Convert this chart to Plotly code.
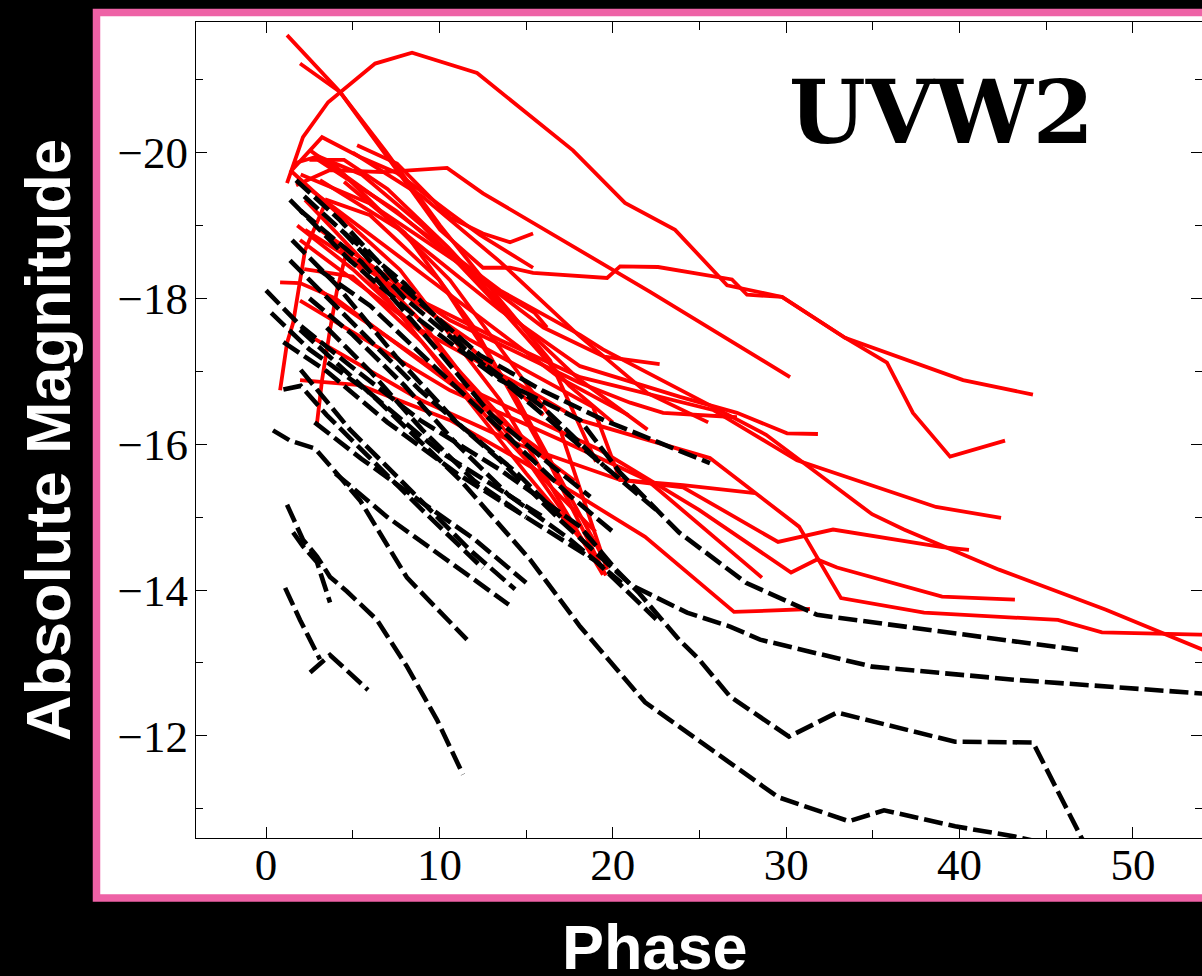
import plotly.graph_objects as go

# ---- light-curve samples: phase (days) and absolute magnitude in UVW2 ----
# red solid curves
red_phase = [
    [1.21, 2.13, 3.58, 6.29, 8.42, 12.17, 17.70, 20.70, 23.59, 26.59, 29.76, 33.39, 40.20, 44.23],
    [1.21, 4.27, 7.15, 10.03, 12.51, 14.07, 15.40, 19.67, 20.42, 22.61, 26.87, 27.74, 29.76, 33.39, 35.81, 37.31, 39.45, 42.62],
    [1.96, 4.27, 6.86, 10.03, 13.49, 16.38, 19.03],
    [5.25, 7.55, 10.61, 12.51, 14.07, 15.40],
    [1.50, 3.23, 5.42, 7.55, 10.61, 12.34, 15.40],
    [1.73, 3.69, 6.75, 10.44, 12.51, 18.11, 22.15, 30.22],
    [3.11, 7.73, 13.49, 18.11, 23.88, 27.16, 30.05, 31.83],
    [2.54, 7.73, 13.49, 18.11, 19.43, 28.84, 34.95, 36.79, 42.27, 48.44, 54.04],
    [2.25, 7.73, 13.49, 18.11, 25.78, 30.62, 38.64, 42.39],
    [1.96, 8.88, 14.65, 18.11, 25.60, 28.14, 30.74, 33.16, 37.95, 45.67, 48.21, 53.86, 54.04],
    [1.96, 5.42, 10.61, 14.65, 18.11, 21.86, 26.99, 31.37],
    [1.96, 8.88, 14.65, 20.42, 24.05, 27.34, 29.53, 32.70, 38.99, 40.54],
    [3.11, 10.61, 19.26, 24.97, 30.28, 31.78, 32.93, 38.99, 43.19],
    [1.96, 10.61, 16.96, 21.97, 28.60],
    [3.11, 10.61, 18.11, 21.00, 22.90, 27.16],
    [4.27, 11.76, 18.86, 20.42, 24.05, 28.20],
    [1.38, 7.73, 13.49, 19.43],
    [2.25, 8.88, 14.65, 19.03],
    [3.69, 10.61, 16.96, 19.67],
    [0.81, 1.21, 1.56, 2.25, 3.50, 6.00, 10.00, 14.50, 19.50],
    [2.94, 3.23, 3.69, 4.09, 4.60, 7.00, 11.00, 16.00],
    [0.81, 1.96, 4.00, 8.00, 12.00, 16.50],
    [1.60, 3.00, 5.50, 9.00, 13.00, 17.50, 20.00],
    [2.50, 4.50, 7.00, 10.50, 14.00, 18.00, 22.00],
    [2.00, 6.00, 11.00, 16.00, 19.50, 22.70],
    [2.50, 7.00, 12.00, 17.00, 20.90],
    [1.80, 5.00, 10.00, 15.00, 17.80],
    [3.00, 7.50, 12.00, 15.50, 16.20],
    [4.50, 8.00, 12.00, 16.00, 19.60],
    [3.50, 7.00, 11.00, 15.00, 18.50],
    [2.20, 5.00, 9.00, 13.00, 16.50, 19.00],
    [5.00, 9.00, 13.50, 18.00, 22.00, 25.50],
]
red_mag = [
    [-19.58, -20.21, -20.69, -21.22, -21.37, -21.09, -20.03, -19.31, -18.94, -18.18, -18.02, -17.46, -16.88, -16.68],
    [-21.61, -20.83, -19.89, -18.94, -18.42, -18.42, -18.35, -18.28, -18.44, -18.43, -18.26, -18.05, -18.02, -17.46, -17.12, -16.43, -15.83, -16.05],
    [-21.22, -20.83, -20.03, -19.00, -17.98, -17.15, -15.76],
    [-20.10, -19.85, -19.11, -18.89, -18.77, -18.89],
    [-19.76, -20.21, -19.94, -19.72, -19.17, -18.87, -18.42],
    [-19.55, -19.76, -19.73, -19.79, -19.44, -18.66, -18.09, -16.92],
    [-19.62, -18.94, -17.84, -17.07, -16.65, -16.43, -16.15, -16.14],
    [-20.03, -19.14, -18.11, -17.50, -17.30, -16.13, -15.04, -14.83, -14.28, -13.73, -13.18],
    [-18.94, -18.11, -17.43, -16.92, -16.47, -15.78, -15.14, -14.99],
    [-18.80, -17.57, -16.81, -16.33, -15.81, -15.35, -14.87, -13.89, -13.69, -13.59, -13.42, -13.39, -13.39],
    [-16.88, -16.81, -16.33, -15.78, -15.28, -14.73, -13.70, -13.74],
    [-17.56, -16.61, -15.99, -15.51, -15.41, -14.96, -14.66, -14.83, -14.59, -14.55],
    [-18.11, -16.88, -15.92, -15.10, -14.24, -14.42, -14.31, -13.91, -13.87],
    [-17.97, -16.74, -16.06, -15.51, -14.17],
    [-18.94, -17.70, -16.84, -16.57, -16.43, -16.37],
    [-18.66, -17.43, -16.51, -15.51, -15.44, -15.33],
    [-19.76, -18.39, -16.61, -14.21],
    [-19.35, -17.70, -15.92, -14.42],
    [-19.89, -18.25, -16.20, -14.28],
    [-16.74, -17.39, -17.66, -18.66, -19.35, -19.14, -18.25, -16.61, -14.42],
    [-16.29, -16.88, -17.57, -18.11, -18.60, -18.30, -17.50, -16.40],
    [-18.22, -18.21, -18.00, -17.30, -16.60, -15.80],
    [-19.85, -19.95, -19.70, -19.00, -18.00, -16.80, -16.30],
    [-19.90, -19.90, -19.50, -18.70, -17.80, -16.90, -16.20],
    [-19.70, -19.30, -18.50, -17.60, -17.20, -17.10],
    [-19.50, -18.70, -17.80, -16.90, -16.40],
    [-19.00, -18.40, -17.30, -16.00, -15.50],
    [-19.90, -19.20, -18.30, -17.80, -17.60],
    [-19.60, -18.90, -17.60, -15.90, -14.20],
    [-18.90, -18.00, -16.80, -15.60, -14.60],
    [-18.40, -18.30, -17.40, -16.30, -15.40, -14.80],
    [-20.00, -19.40, -18.50, -17.50, -16.70, -16.30],
]

# black dashed curves
black_phase = [
    [1.38, 4.84, 8.88, 13.49, 16.96, 21.05, 24.28, 26.76, 28.49, 34.95, 43.19, 53.46, 54.04],
    [0.00, 1.96, 4.84, 8.88, 13.49, 18.11, 20.18, 21.51, 23.82, 24.97, 26.76, 30.16, 32.93, 39.74, 44.23, 47.06, 48.00],
    [1.96, 6.40, 11.19, 15.22, 18.11, 21.86, 29.53, 33.62, 35.64, 39.74, 43.19, 44.50],
    [1.73, 4.27, 7.73, 12.34, 15.91, 19.49, 25.60],
    [1.38, 4.84, 8.88, 13.49, 18.11, 20.42, 23.82, 27.68, 31.78, 46.83],
    [2.00, 5.50, 9.50, 13.00, 16.50, 18.70],
    [2.00, 4.84, 8.88, 11.76, 14.36],
    [0.40, 1.38, 2.83, 5.42, 8.13, 11.59],
    [1.21, 2.13, 2.94, 3.69, 4.67, 6.40, 8.13, 9.86, 11.36],
    [1.10, 1.96, 3.11],
    [2.54, 3.69, 5.88],
    [1.56, 2.13, 2.94, 3.69],
    [1.00, 2.00, 3.50, 6.00, 9.00, 12.50],
    [0.30, 2.50, 6.00, 10.00, 14.00, 17.50, 20.50],
    [1.00, 3.50, 7.00, 11.00, 15.00, 19.00, 22.50],
    [2.20, 4.50, 8.00, 12.00, 16.00, 19.50],
    [1.50, 4.00, 7.50, 11.00, 14.50, 17.00],
    [3.00, 6.00, 10.00, 14.00, 17.50, 20.00],
    [2.80, 5.50, 9.00, 12.00, 15.00],
    [4.00, 7.00, 10.50, 14.00],
    [3.50, 6.00, 9.00, 12.00, 15.00],
    [2.50, 5.00, 8.00, 11.00, 14.00, 16.00],
    [4.50, 8.00, 11.50, 15.50, 19.00, 22.50],
]
black_mag = [
    [-18.52, -17.70, -16.74, -15.78, -14.96, -14.07, -13.69, -13.50, -13.32, -12.95, -12.77, -12.59, -12.58],
    [-18.11, -17.63, -17.08, -16.33, -15.65, -14.87, -14.28, -13.96, -13.32, -13.05, -12.54, -11.99, -12.32, -11.92, -11.91, -10.59, -10.35],
    [-17.57, -16.61, -15.51, -14.42, -13.50, -12.46, -11.16, -10.83, -10.98, -10.76, -10.62, -10.55],
    [-19.62, -19.07, -18.18, -17.22, -16.74, -16.33, -15.74],
    [-19.35, -18.52, -17.70, -16.88, -16.33, -15.61, -14.79, -14.10, -13.66, -13.18],
    [-19.20, -18.50, -17.40, -16.40, -15.70, -15.28],
    [-17.02, -16.20, -15.24, -14.55, -14.01],
    [-16.19, -16.05, -15.94, -15.23, -14.17, -13.32],
    [-15.17, -14.69, -14.46, -14.18, -13.98, -13.59, -12.95, -12.22, -11.47],
    [-14.03, -13.59, -13.05],
    [-12.87, -13.11, -12.63],
    [-14.79, -14.60, -14.38, -13.83],
    [-16.75, -16.80, -16.40, -15.80, -15.10, -14.30],
    [-17.80, -17.30, -16.70, -15.90, -15.30, -14.70, -14.10],
    [-17.40, -17.00, -16.30, -15.60, -15.00, -14.40, -13.60],
    [-19.40, -18.90, -18.00, -17.20, -16.50, -15.70],
    [-18.80, -18.20, -17.20, -16.30, -15.60, -15.00],
    [-18.40, -17.90, -17.00, -16.10, -15.30, -14.80],
    [-16.30, -15.80, -15.20, -14.70, -14.10],
    [-15.60, -15.00, -14.40, -13.80],
    [-17.60, -17.00, -16.20, -15.50, -15.00],
    [-18.00, -17.50, -16.80, -16.00, -15.30, -15.00],
    [-18.90, -18.20, -17.30, -16.50, -15.80, -15.10],
]

band_label = "UVW2"
x_title = "Phase"
y_title = "Absolute Magnitude"

fig = go.Figure()
for ph, mg in zip(red_phase, red_mag):
    fig.add_trace(go.Scatter(x=ph, y=mg, mode="lines",
                             line=dict(color="#ff0000", width=3.8),
                             showlegend=False, hoverinfo="skip"))
for ph, mg in zip(black_phase, black_mag):
    fig.add_trace(go.Scatter(x=ph, y=mg, mode="lines",
                             line=dict(color="#000000", width=4.6, dash="19px,6px"),
                             showlegend=False, hoverinfo="skip"))

tick_font = dict(family="Liberation Serif, Times New Roman, serif", size=45, color="black")
axis_common = dict(
    showline=True, linecolor="black", linewidth=1.2, mirror="ticks",
    ticks="inside", ticklen=11, tickwidth=1.2, tickcolor="black",
    showgrid=False, zeroline=False, tickfont=tick_font,
)

fig.update_xaxes(range=[-4.04, 53.98], tick0=0, dtick=10, ticklabelstandoff=-13,
                 minor=dict(ticks="inside", ticklen=8, tickwidth=1.2, tickcolor="black", dtick=5, tick0=0),
                 **axis_common)
fig.update_yaxes(range=[-10.6, -21.79], tick0=-20, dtick=2, ticklabelstandoff=-2,
                 minor=dict(ticks="inside", ticklen=7, tickwidth=1.2, tickcolor="black", dtick=1),
                 **axis_common)

L, R, T, B = 196, 0, 22, 138
W, H = 1202, 976
pw, ph_ = W - L - R, H - T - B


def px_x(p):
    return (p - L) / pw


def px_y(p):
    return (H - B - p) / ph_


# white panel with pink frame behind the axes
fig.add_shape(type="rect", xref="paper", yref="paper",
              x0=px_x(96.5), x1=px_x(1230), y0=px_y(898), y1=px_y(12.5),
              fillcolor="white", line=dict(color="#ee62a6", width=7.5), layer="below")

fig.add_annotation(text=f"<b>{band_label}</b>", xref="paper", yref="paper",
                   x=px_x(941), y=px_y(112), xanchor="center", yanchor="middle", showarrow=False,
                   font=dict(family="DejaVu Serif, serif", size=88, color="black"))
fig.add_annotation(text=f"<b>{y_title}</b>", xref="paper", yref="paper",
                   x=px_x(48), y=px_y(440), xanchor="center", yanchor="middle",
                   showarrow=False, textangle=-90,
                   font=dict(family="Liberation Sans, Arial, sans-serif", size=63, color="white"))
fig.add_annotation(text=f"<b>{x_title}</b>", xref="paper", yref="paper",
                   x=px_x(655), y=px_y(947), xanchor="center", yanchor="middle", showarrow=False,
                   font=dict(family="Liberation Sans, Arial, sans-serif", size=63, color="white"))

fig.update_layout(width=W, height=H, margin=dict(l=L, r=R, t=T, b=B, pad=0),
                  paper_bgcolor="black", plot_bgcolor="rgba(0,0,0,0)",
                  showlegend=False)

fig.write_html("out.html")
